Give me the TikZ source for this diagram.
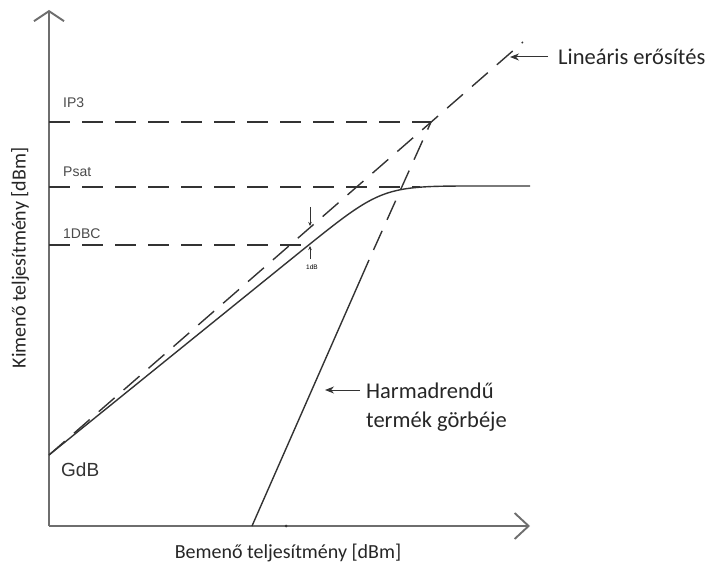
\documentclass[tikz,border=0pt]{standalone}
\usepackage{fontspec}
\setmainfont{Carlito}
\newfontfamily\arialf{Liberation Sans}
\usetikzlibrary{arrows.meta}
\definecolor{axisgray}{HTML}{6E6E6E}
\definecolor{curvegray}{HTML}{333333}
\definecolor{labgray}{HTML}{4A4A4A}
\tikzset{
  axisline/.style={draw=axisgray, line width=1.9pt},
  curve/.style={draw=curvegray, line width=1.4pt},
  dashline/.style={draw=curvegray, line width=1.4pt, dash pattern=on 21pt off 12pt},
  levellabel/.style={font=\arialf\fontsize{14}{14}\selectfont, text=labgray, anchor=west, inner sep=0pt},
  notelabel/.style={font=\fontsize{22.5}{29}\selectfont, text=black!85, anchor=west, inner sep=0pt, align=left},
  axislabel/.style={font=\fontsize{20}{20}\selectfont, text=black!85, inner sep=0pt},
  pointer/.style={draw=curvegray, line width=1pt, -{Stealth[length=9pt,width=7pt]}},
  tinyarrow/.style={draw=curvegray, line width=0.8pt, -{Stealth[length=4pt,width=3.5pt]}}
}
\begin{document}
\begin{tikzpicture}[x=1pt,y=-1pt]
\useasboundingbox (0,0) rectangle (721,567);
% key points
\coordinate (O) at (49,526);
\coordinate (Ytop) at (49,10);
\coordinate (Xend) at (530,526);
\coordinate (G) at (49,455);
\coordinate (L) at (523,42);
\coordinate (IP) at (431,122);
\coordinate (IPy) at (49,122);
\coordinate (PSy) at (49,187);
\coordinate (PSx) at (420,187);
\coordinate (DBy) at (49,245);
\coordinate (DBx) at (310,245);
\coordinate (C1) at (300,252);
\coordinate (Cc) at (382,186);
\coordinate (C2) at (480,186);
\coordinate (C3) at (530,186);
\coordinate (T0) at (252,526);
\coordinate (Tb) at (369,260);
\coordinate (Tick) at (286,526);
% axes
\draw[axisline, -{Straight Barb[length=10pt,width=30pt,line width=1.9pt]}] (O) -- (Ytop);
\draw[axisline, -{Straight Barb[length=14pt,width=26pt,line width=1.9pt]}] (O) -- (Xend);
\fill[curvegray] (Tick) circle (1.5pt);
% level lines
\draw[dashline] (IPy) -- (IP);
\draw[dashline] (PSy) -- (PSx);
\draw[dashline] (DBy) -- (DBx);
% linear gain
\draw[dashline] (G) -- (L);
% compression curve
\draw[curve] (G) -- (C1) .. controls (Cc) .. (C2) -- (C3);
% third order
\draw[curve] (T0) -- (Tb);
\draw[dashline, dash phase=22pt] (Tb) -- (IP);
% 1 dB markers
\coordinate (A1s) at (310,207);
\coordinate (A1e) at (310,226);
\coordinate (A2s) at (310,259);
\coordinate (A2e) at (310,246);
\draw[tinyarrow] (A1s) -- (A1e);
\draw[tinyarrow] (A2s) -- (A2e);
\node[font=\arialf\fontsize{6.5}{6.5}\selectfont, inner sep=0pt] (dbl) at (312,267) {1dB};
% labels
\node[levellabel] (lip) at (63,103) {IP3};
\node[levellabel] (lps) at (63,172) {Psat};
\node[levellabel] (ldb) at (63,234) {1DBC};
\node[font=\arialf\fontsize{19}{19}\selectfont, text=black!80, anchor=west, inner sep=0pt] (lg) at (61,470) {GdB};
% annotations
\node[notelabel] (lin) at (558,57) {Lineáris erősítés};
\coordinate (linA) at (548,57);
\coordinate (linB) at (510,57);
\draw[pointer] (linA) -- (linB);
\node[notelabel] (harm) at (366,407) {Harmadrendű\\termék görbéje};
\coordinate (hA) at (360,390);
\coordinate (hB) at (325,390);
\draw[pointer] (hA) -- (hB);
% axis labels
\node[axislabel] (xl) at (288,553) {Bemenő teljesítmény [dBm]};
\node[axislabel, rotate=90] (yl) at (20,258) {Kimenő teljesítmény [dBm]};
\end{tikzpicture}
\end{document}
